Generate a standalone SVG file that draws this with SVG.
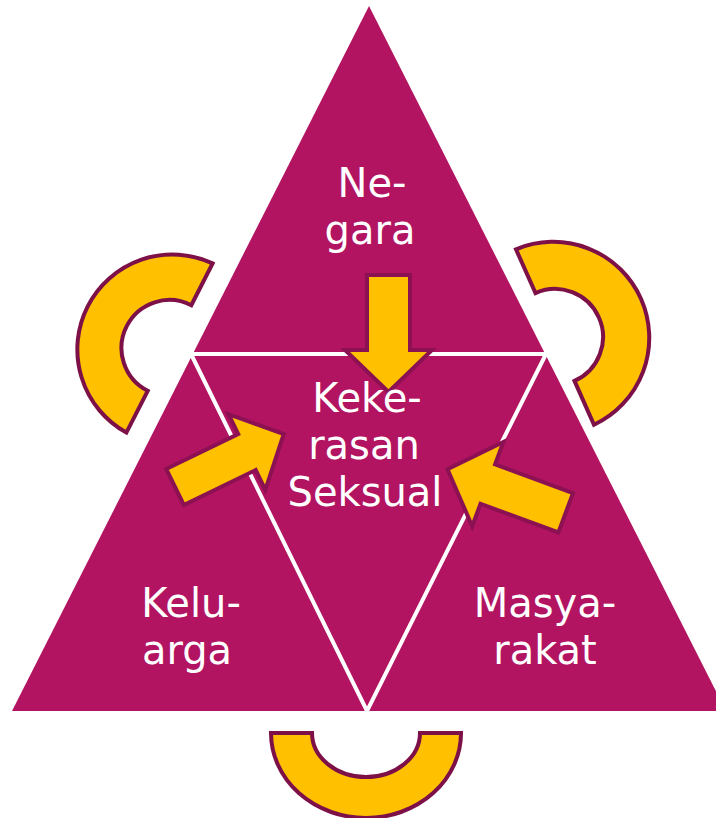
<svg xmlns="http://www.w3.org/2000/svg" width="716" height="818" viewBox="0 0 716 818">
<style>
.tri{fill:#B21462}
.sep{stroke:#FFFFFF;stroke-width:4;fill:none}
.lbl{font-family:"DejaVu Sans","Liberation Sans",sans-serif;font-size:40px;fill:#FFFFFF;text-anchor:middle}
.arc{fill:#FFC000;stroke:#7E1048;stroke-width:4;stroke-linejoin:miter}
.arw{fill:#FFC000;stroke:#8C1152;stroke-width:4;stroke-linejoin:miter}
</style>
<rect width="716" height="818" fill="#FFFFFF"/>
<g id="negara">
<polygon class="tri" points="369,6 192.8,354 545.2,354"/>
<text class="lbl" x="372" y="197">Ne-</text>
<text class="lbl" x="370" y="244">gara</text>
</g>
<g id="keluarga">
<polygon class="tri" points="192.8,354 12,711 367,711"/>
<text class="lbl" x="191" y="617">Kelu-</text>
<text class="lbl" x="187" y="664">arga</text>
</g>
<g id="masyarakat">
<polygon class="tri" points="545.2,354 726,711 367,711"/>
<text class="lbl" x="545" y="617">Masya-</text>
<text class="lbl" x="545" y="664">rakat</text>
</g>
<g id="kekerasan-seksual">
<polygon class="tri" points="192.8,354 545.2,354 367,711"/>
</g>
<g id="separators">
<line class="sep" x1="180" y1="354" x2="560" y2="354"/>
<polyline class="sep" points="191,354 367,711 546,354"/>
</g>
<g id="connectors">
<path class="arc" d="M 212.6,263.4 A 95 95 0 0 0 126.4,432.6 L 147.7,390.8 A 48 48 0 0 1 191.3,305.2 Z"/>
<path class="arc" d="M 516,249.3 A 96 96 0 0 1 594,424.7 L 574.5,380.9 A 48 48 0 0 0 535.5,293.1 Z"/>
<path class="arc" d="M 271,733 A 95 85 0 0 0 461,733 L 420,733 A 54 44 0 0 1 312,733 Z"/>
<polygon class="arw" points="367,275 410,275 410,350 432,350 388.5,392 345,350 367,350"/>
<polygon class="arw" points="166.2,469 238.2,434 228.5,414.2 283.8,434 265.3,489.8 255.7,470 183.8,505"/>
<polygon class="arw" points="573,493.1 495.1,464.4 503.4,441.9 447.5,469.2 472.2,526.3 480.5,503.8 558.4,532.5"/>
</g>
<g id="center-label">
<text class="lbl" x="367" y="412">Keke-</text>
<text class="lbl" x="364" y="459">rasan</text>
<text class="lbl" x="365" y="506">Seksual</text>
</g>
</svg>
